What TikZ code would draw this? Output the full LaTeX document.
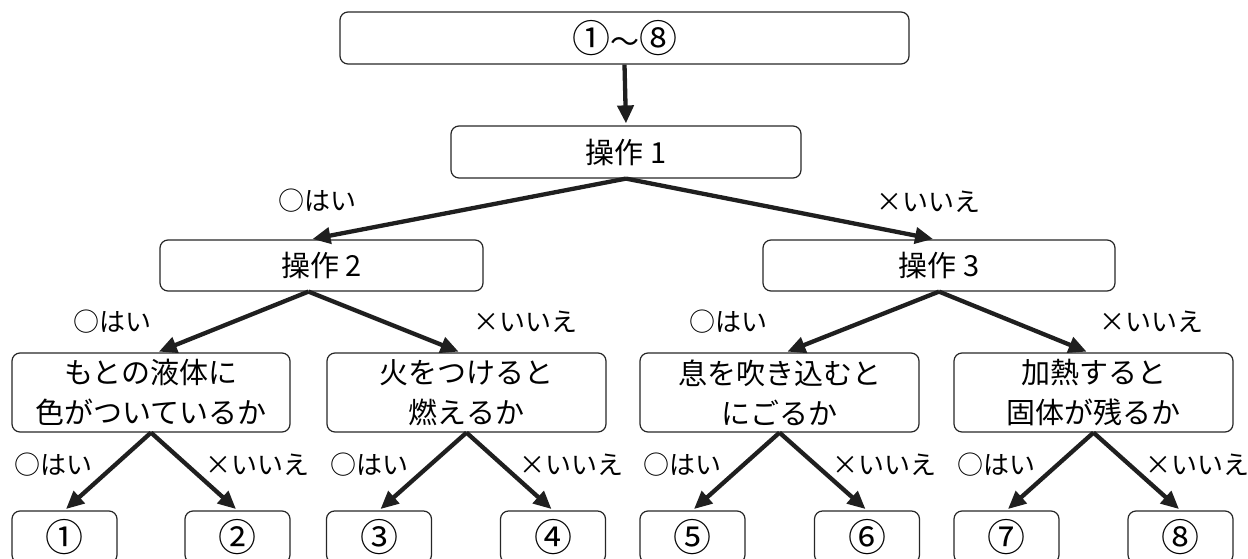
\documentclass[tikz,border=0pt]{standalone}
\usepackage{fontspec}
\setmainfont{Noto Sans CJK JP}
\usetikzlibrary{arrows.meta}
\newcommand{\cdg}[1]{{\fontsize{38}{40}\selectfont #1}}
\begin{document}
\begin{tikzpicture}[x=1pt,y=-1pt,
  box/.style={draw=black!85,line width=1.2pt,rounded corners=8pt,inner sep=0pt,
    font=\fontsize{29}{40}\selectfont,align=center},
  lab/.style={font=\fontsize{26}{30}\selectfont,inner sep=0pt},
  arr/.style={line width=4.3pt,draw=black!88,-{Triangle[length=18pt,width=16pt]},shorten >=2pt}]
\useasboundingbox (0,0) rectangle (1248,559);
\clip (0,0) rectangle (1248,559);
% boxes
\node[box,minimum width=569pt,minimum height=52pt] (top) at (624.5,38) {\cdg{①}〜\cdg{⑧}};
\node[box,minimum width=350pt,minimum height=52pt] (op1) at (626,152) {操作 1};
\node[box,minimum width=323pt,minimum height=51pt] (op2) at (321.5,265.5) {操作 2};
\node[box,minimum width=352pt,minimum height=51pt] (op3) at (939,265.5) {操作 3};
\node[box,minimum width=278pt,minimum height=79pt] (qa) at (151,392.5) {もとの液体に\\色がついているか};
\node[box,minimum width=279pt,minimum height=79pt] (qb) at (466.5,392.5) {火をつけると\\燃えるか};
\node[box,minimum width=279pt,minimum height=79pt] (qc) at (779.5,392.5) {息を吹き込むと\\にごるか};
\node[box,minimum width=279pt,minimum height=79pt] (qd) at (1093.5,392.5) {加熱すると\\固体が残るか};
\node[box,minimum width=105pt,minimum height=52pt] (n1) at (64.5,537) {\cdg{①}};
\node[box,minimum width=105pt,minimum height=52pt] (n2) at (237.5,537) {\cdg{②}};
\node[box,minimum width=105pt,minimum height=52pt] (n3) at (379,537) {\cdg{③}};
\node[box,minimum width=105pt,minimum height=52pt] (n4) at (553,537) {\cdg{④}};
\node[box,minimum width=105pt,minimum height=52pt] (n5) at (692.5,537) {\cdg{⑤}};
\node[box,minimum width=105pt,minimum height=52pt] (n6) at (867,537) {\cdg{⑥}};
\node[box,minimum width=105pt,minimum height=52pt] (n7) at (1006.5,537) {\cdg{⑦}};
\node[box,minimum width=105pt,minimum height=52pt] (n8) at (1180.5,537) {\cdg{⑧}};
% arrows
\draw[arr] (top.south) -- (op1.north);
\draw[arr] (op1.south) -- ([xshift=-11pt]op2.north);
\draw[arr] (op1.south) -- ([xshift=-4pt]op3.north);
\draw[arr] ([xshift=-13pt]op2.south) -- ([xshift=6pt]qa.north);
\draw[arr] ([xshift=-13pt]op2.south) -- ([xshift=-6pt]qb.north);
\draw[arr] (op3.south) -- ([xshift=6pt]qc.north);
\draw[arr] (op3.south) -- ([xshift=-5pt]qd.north);
\draw[arr] (qa.south) -- (n1.north);
\draw[arr] (qa.south) -- (n2.north);
\draw[arr] (qb.south) -- (n3.north);
\draw[arr] (qb.south) -- (n4.north);
\draw[arr] (qc.south) -- (n5.north);
\draw[arr] (qc.south) -- (n6.north);
\draw[arr] (qd.south) -- (n7.north);
\draw[arr] (qd.south) -- (n8.north);
% labels
\node[lab] (l1) at (317,201) {○はい};
\node[lab] (l2) at (928,202) {×いいえ};
\node[lab] (l3) at (112,322) {○はい};
\node[lab] (l4) at (525,322) {×いいえ};
\node[lab] (l5) at (728,322) {○はい};
\node[lab] (l6) at (1151,322) {×いいえ};
\node[lab] (l7) at (53,465) {○はい};
\node[lab] (l8) at (257,465) {×いいえ};
\node[lab] (l9) at (369,465) {○はい};
\node[lab] (l10) at (571,465) {×いいえ};
\node[lab] (l11) at (682,465) {○はい};
\node[lab] (l12) at (884,465) {×いいえ};
\node[lab] (l13) at (996,465) {○はい};
\node[lab] (l14) at (1197,465) {×いいえ};
\end{tikzpicture}
\end{document}
